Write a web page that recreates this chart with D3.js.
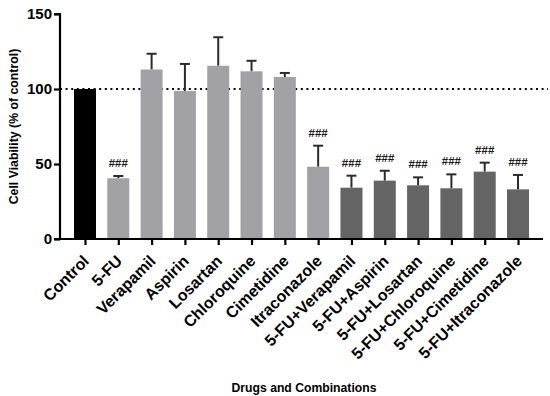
<!DOCTYPE html>
<html>
<head>
<meta charset="utf-8">
<script src="https://cdn.jsdelivr.net/npm/d3@7"></script>
<style>
  body { margin: 0; background: #fff; }
  text { font-family: "Liberation Sans", Arial, sans-serif; }
</style>
</head>
<body>
<script>
const drugs = ["Control", "5-FU", "Verapamil", "Aspirin", "Losartan", "Chloroquine", "Cimetidine",
  "Itraconazole", "5-FU+Verapamil", "5-FU+Aspirin", "5-FU+Losartan", "5-FU+Chloroquine",
  "5-FU+Cimetidine", "5-FU+Itraconazole"];
const viability = [100, 40.5, 113, 98.7, 115.5, 111.8, 108, 48.2, 34.2, 38.9, 35.8, 33.8, 44.9, 33.1];
const sem = [0, 1.5, 10.5, 18, 19, 7, 2.7, 14, 8, 6.6, 5.3, 9.3, 6, 9.6];
const marks = ["", "###", "", "", "", "", "", "###", "###", "###", "###", "###", "###", "###"];
const groups = ["ctrl", "single", "single", "single", "single", "single", "single",
  "single", "combo", "combo", "combo", "combo", "combo", "combo"];
const yTicks = [0, 50, 100, 150];

const W = 550, H = 396;
const m = { left: 60, right: 543, top: 14, bottom: 239 };

const x = d3.scalePoint().domain(drugs).range([m.left, m.right]).padding(0.75);
const y = d3.scaleLinear().domain([0, 150]).range([m.bottom, m.top]);
const color = d3.scaleOrdinal().domain(["ctrl", "single", "combo"])
  .range(["#000000", "#a2a2a6", "#646464"]);
const barW = 22;

const data = drugs.map((d, i) => ({name: d, v: viability[i], e: sem[i], m: marks[i], g: groups[i]}));

const svg = d3.select("body").append("svg")
  .attr("width", W).attr("height", H);

// reference line at 100%
svg.append("line")
  .attr("x1", m.left).attr("x2", 548)
  .attr("y1", y(100)).attr("y2", y(100))
  .attr("stroke", "#000").attr("stroke-width", 2)
  .attr("stroke-dasharray", "2,3.6");

// error bars
const eb = svg.append("g").selectAll("g").data(data.filter(d => d.e > 0)).enter().append("g")
  .attr("stroke", "#2b2b2b").attr("stroke-width", 2);
eb.append("line")
  .attr("x1", d => x(d.name)).attr("x2", d => x(d.name))
  .attr("y1", d => y(d.v)).attr("y2", d => y(d.v + d.e));
eb.append("line")
  .attr("x1", d => x(d.name) - 5).attr("x2", d => x(d.name) + 5)
  .attr("y1", d => y(d.v + d.e)).attr("y2", d => y(d.v + d.e));

// bars
svg.append("g").selectAll("rect").data(data).enter().append("rect")
  .attr("x", d => x(d.name) - barW / 2)
  .attr("width", barW)
  .attr("y", d => y(d.v))
  .attr("height", d => y(0) - y(d.v))
  .attr("fill", d => color(d.g));

// significance marks
svg.append("g").selectAll("text").data(data.filter(d => d.m)).enter().append("text")
  .attr("x", d => x(d.name))
  .attr("y", d => y(d.v + d.e) - 9)
  .attr("text-anchor", "middle")
  .attr("font-size", 11.5)
  .attr("font-weight", "bold")
  .attr("fill", "#1a1a1a")
  .text(d => d.m);

// axes
const yAxis = svg.append("g")
  .attr("transform", `translate(${m.left},0)`)
  .call(d3.axisLeft(y).tickValues(yTicks).tickSize(6).tickPadding(2));
const xAxis = svg.append("g")
  .attr("transform", `translate(0,${m.bottom})`)
  .call(d3.axisBottom(x).tickSize(6).tickFormat(""));

[yAxis, xAxis].forEach(a => {
  a.select(".domain").attr("stroke", "#000").attr("stroke-width", 2.2);
  a.selectAll(".tick line").attr("stroke", "#000").attr("stroke-width", 2.2);
});
yAxis.select(".domain").attr("d", `M-6,${m.bottom}H0V${m.top}H-6`);
xAxis.select(".domain").attr("d", `M${m.left},0H${m.right}`);
yAxis.selectAll(".tick text")
  .attr("font-size", 15).attr("font-weight", "bold").attr("fill", "#000")
  .style("font-family", "'Liberation Sans', Arial, sans-serif");

// rotated category labels
svg.append("g").selectAll("text").data(drugs).enter().append("text")
  .attr("transform", d => `translate(${x(d) + 5},${m.bottom + 23}) rotate(-45)`)
  .attr("text-anchor", "end")
  .attr("font-size", 16)
  .attr("font-weight", "bold")
  .text(d => d);

// axis titles
svg.append("text")
  .attr("transform", `translate(18,${(m.top + m.bottom) / 2}) rotate(-90)`)
  .attr("text-anchor", "middle")
  .attr("font-size", 12.3)
  .attr("font-weight", "bold")
  .text("Cell Viability (% of control)");

svg.append("text")
  .attr("x", 304).attr("y", 392)
  .attr("text-anchor", "middle")
  .attr("font-size", 12.2)
  .attr("font-weight", "bold")
  .text("Drugs and Combinations");
</script>
</body>
</html>
